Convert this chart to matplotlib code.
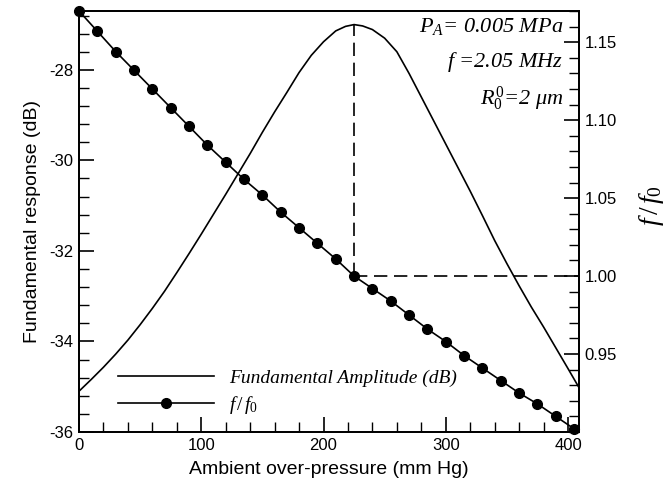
import matplotlib
matplotlib.use("Agg")
import matplotlib.pyplot as plt
from matplotlib.ticker import MultipleLocator, FixedLocator, FormatStrFormatter

plt.rcParams["font.family"] = ["Liberation Sans", "DejaVu Sans"]
plt.rcParams["axes.unicode_minus"] = False
plt.rcParams["mathtext.fontset"] = "custom"
plt.rcParams["mathtext.rm"] = "Liberation Serif"
plt.rcParams["mathtext.it"] = "Liberation Serif:italic"

# Fundamental amplitude (dB) vs ambient over-pressure (mm Hg)
amp_pressure = [0, 10, 20, 30, 40, 50, 60, 70, 80, 90, 100, 110, 120, 130, 140,
                150, 160, 170, 180, 190, 200, 210, 218, 225, 232, 240, 250, 260,
                270, 280, 290, 300, 310, 320, 330, 340, 350, 360, 370, 380, 390,
                400, 409]
amp_db = [-35.10, -34.84, -34.57, -34.28, -33.97, -33.63, -33.27, -32.89, -32.48,
          -32.06, -31.63, -31.19, -30.75, -30.30, -29.85, -29.38, -28.93, -28.50,
          -28.06, -27.68, -27.38, -27.14, -27.04, -27.00, -27.03, -27.11, -27.30,
          -27.60, -28.08, -28.60, -29.12, -29.64, -30.16, -30.68, -31.22, -31.77,
          -32.28, -32.77, -33.24, -33.68, -34.14, -34.60, -35.02]

# Frequency ratio f/f0 sampled every 15 mm Hg
ratio_pressure = [0, 15, 30, 45, 60, 75, 90, 105, 120, 135, 150, 165, 180, 195,
                  210, 225, 240, 255, 270, 285, 300, 315, 330, 345, 360, 375, 390, 405]
ratio = [1.170, 1.157, 1.144, 1.132, 1.120, 1.108, 1.096, 1.084, 1.073, 1.062,
         1.052, 1.041, 1.031, 1.021, 1.011, 1.000, 0.992, 0.984, 0.975, 0.966,
         0.958, 0.949, 0.941, 0.933, 0.925, 0.918, 0.910, 0.902]

peak_pressure = 225
peak_db = -27.00
ratio_ref = 1.00

x_major = [0, 100, 200, 300, 400]
left_major = [-36, -34, -32, -30, -28]
right_major = [0.95, 1.00, 1.05, 1.10, 1.15]

fig = plt.figure(figsize=(6.70, 4.91), dpi=100)
ax = fig.add_axes([0.1179, 0.1202, 0.7463, 0.8574])
ax2 = ax.twinx()

ax.set_xlim(0, 409)
ax.set_ylim(-36, -26.7)
ax2.set_ylim(0.90, 1.17)

line_amp, = ax.plot(amp_pressure, amp_db, color="black", lw=1.2)
line_ratio, = ax2.plot(ratio_pressure, ratio, color="black", lw=1.2, marker="o",
                       ms=7, clip_on=False, zorder=5)

# dashed guides: from the amplitude peak down to the f/f0 curve, then across
y_top = ax2.transData.inverted().transform(ax.transData.transform((peak_pressure, peak_db)))[1]
ax2.plot([peak_pressure, peak_pressure], [ratio_ref, y_top], color="black", lw=1.2,
         dashes=(8, 4))
ax2.plot([peak_pressure, 409], [ratio_ref, ratio_ref], color="black", lw=1.2,
         dashes=(8, 4), clip_on=False)

# ticks
ax.xaxis.set_major_locator(FixedLocator(x_major))
ax.xaxis.set_minor_locator(MultipleLocator(20))
ax.yaxis.set_major_locator(FixedLocator(left_major))
ax.yaxis.set_minor_locator(MultipleLocator(0.4))
ax2.yaxis.set_major_locator(FixedLocator(right_major))
ax2.yaxis.set_minor_locator(MultipleLocator(0.01))
ax2.yaxis.set_major_formatter(FormatStrFormatter("%.2f"))

for a in (ax, ax2):
    a.tick_params(which="major", direction="in", length=11, width=1.2, labelsize=12)
    a.tick_params(which="minor", direction="in", length=7, width=1.0)
    for s in a.spines.values():
        s.set_linewidth(1.3)
ax.tick_params(axis="both", top=False, right=False, pad=4)
ax2.tick_params(axis="y", left=False, right=True, pad=4)

ax.set_xlabel("Ambient over-pressure (mm Hg)", fontsize=14, labelpad=6)
ax.set_ylabel("Fundamental response (dB)", fontsize=14, labelpad=6)
ax2.set_ylabel(r"$f\,/\,f_0$", fontsize=20)
ax2.yaxis.set_label_coords(1.115, 0.537)

serif_it = dict(family="Liberation Serif", style="italic", fontsize=16,
                ha="right", va="center")
ax.text(0.968, 0.962, r"$P_A$= 0.005 MPa", transform=ax.transAxes, **serif_it)
ax.text(0.968, 0.879, r"$f$ =2.05 MHz", transform=ax.transAxes, **serif_it)
ax.text(0.968, 0.792, r"$R_0^0$=2 μm", transform=ax.transAxes, **serif_it)

ax.legend([line_amp, line_ratio], ["Fundamental Amplitude (dB)", r"$f\,/\,f_0$"],
          loc="lower left", bbox_to_anchor=(0.044, -0.003), frameon=False,
          handlelength=4.9, handletextpad=0.8, labelspacing=0.35,
          prop=dict(family="Liberation Serif", style="italic", size=14))

fig.savefig("out.png", dpi=100)
